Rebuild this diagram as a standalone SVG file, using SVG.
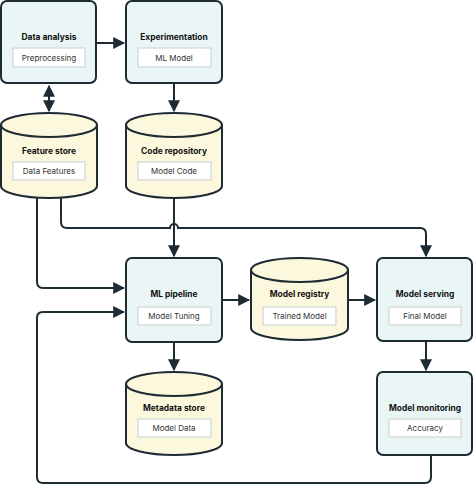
<svg xmlns="http://www.w3.org/2000/svg" width="474" height="486" viewBox="0 0 474 486">
<style>
.box{fill:#eaf6f5;stroke:#1d2b33;stroke-width:2}
.cyl{fill:#fbf8dd;stroke:#1d2b33;stroke-width:2}
.inner{fill:#ffffff;stroke:#c9cfcf;stroke-width:1}
.title{font-family:Inter,"Open Sans",sans-serif;font-size:8.4px;font-weight:700;fill:#111;text-anchor:middle}
.label{font-family:Inter,"Open Sans",sans-serif;font-size:8px;fill:#333;text-anchor:middle}
.conn{fill:none;stroke:#1d2b33;stroke-width:2}
</style>
<defs>
<marker id="ah" viewBox="0 0 10 10" refX="9" refY="5" markerWidth="6" markerHeight="6" orient="auto-start-reverse" markerUnits="strokeWidth">
<path d="M0,0 L10,5 L0,10 Z" fill="#1d2b33"/>
</marker>
</defs>
<rect width="474" height="486" fill="#ffffff"/>
<g id="connectors">
<path class="conn" d="M97,43 H124" marker-end="url(#ah)"/>
<path class="conn" d="M49,86 V111" marker-start="url(#ah)" marker-end="url(#ah)"/>
<path class="conn" d="M174,83 V111" marker-end="url(#ah)"/>
<path class="conn" d="M37,198 V282 Q37,288 43,288 H124" marker-end="url(#ah)"/>
<path class="conn" d="M61,198 V222 Q61,228 67,228 H170 A4,4 0 0 1 178,228 H420 Q426,228 426,234 V256" marker-end="url(#ah)"/>
<path class="conn" d="M174,198 V256" marker-end="url(#ah)"/>
<path class="conn" d="M222,300 H249" marker-end="url(#ah)"/>
<path class="conn" d="M348,300 H375" marker-end="url(#ah)"/>
<path class="conn" d="M174,342 V370" marker-end="url(#ah)"/>
<path class="conn" d="M426,341 V370" marker-end="url(#ah)"/>
<path class="conn" d="M431,455 V477 Q431,483 425,483 H43 Q37,483 37,477 V318 Q37,312 43,312 H124" marker-end="url(#ah)"/>
</g>
<g id="data-analysis">
<rect class="box" x="1" y="1" width="95" height="82" rx="6"/>
<text class="title" x="49" y="40">Data analysis</text>
<rect class="inner" x="13" y="48" width="72" height="19"/>
<text class="label" x="49" y="60.5">Preprocessing</text>
</g>
<g id="experimentation">
<rect class="box" x="126" y="1" width="96" height="82" rx="6"/>
<text class="title" x="174" y="40">Experimentation</text>
<rect class="inner" x="138" y="48" width="73" height="19"/>
<text class="label" x="174" y="60.5">ML Model</text>
</g>
<g id="feature-store">
<path class="cyl" d="M1,125 V186 A48,12 0 0 0 97,186 V125 A48,12 0 0 0 1,125 Z"/>
<path class="cyl" d="M1,125 A48,12 0 0 0 97,125" fill="none"/>
<text class="title" x="49" y="154">Feature store</text>
<rect class="inner" x="13" y="162" width="72" height="18"/>
<text class="label" x="49" y="174">Data Features</text>
</g>
<g id="code-repository">
<path class="cyl" d="M126,125 V186 A48,12 0 0 0 222,186 V125 A48,12 0 0 0 126,125 Z"/>
<path class="cyl" d="M126,125 A48,12 0 0 0 222,125" fill="none"/>
<text class="title" x="174" y="154">Code repository</text>
<rect class="inner" x="138" y="162" width="73" height="18"/>
<text class="label" x="174" y="174">Model Code</text>
</g>
<g id="ml-pipeline">
<rect class="box" x="126" y="258" width="96" height="84" rx="6"/>
<text class="title" x="174" y="297">ML pipeline</text>
<rect class="inner" x="138" y="307" width="73" height="18"/>
<text class="label" x="174" y="319">Model Tuning</text>
</g>
<g id="model-registry">
<path class="cyl" d="M251,270 V328 A48.5,12 0 0 0 348,328 V270 A48.5,12 0 0 0 251,270 Z"/>
<path class="cyl" d="M251,270 A48.5,12 0 0 0 348,270" fill="none"/>
<text class="title" x="299.5" y="297">Model registry</text>
<rect class="inner" x="263" y="307" width="73" height="18"/>
<text class="label" x="299.5" y="319">Trained Model</text>
</g>
<g id="model-serving">
<rect class="box" x="377" y="258" width="95" height="83" rx="6"/>
<text class="title" x="425" y="297">Model serving</text>
<rect class="inner" x="389" y="307" width="72" height="18"/>
<text class="label" x="425" y="319">Final Model</text>
</g>
<g id="metadata-store">
<path class="cyl" d="M126,384 V443 A48,12 0 0 0 222,443 V384 A48,12 0 0 0 126,384 Z"/>
<path class="cyl" d="M126,384 A48,12 0 0 0 222,384" fill="none"/>
<text class="title" x="174" y="411">Metadata store</text>
<rect class="inner" x="138" y="419" width="73" height="18"/>
<text class="label" x="174" y="431">Model Data</text>
</g>
<g id="model-monitoring">
<rect class="box" x="377" y="372" width="95" height="83" rx="6"/>
<text class="title" x="425" y="411">Model monitoring</text>
<rect class="inner" x="389" y="419" width="72" height="18"/>
<text class="label" x="425" y="431">Accuracy</text>
</g>
</svg>
